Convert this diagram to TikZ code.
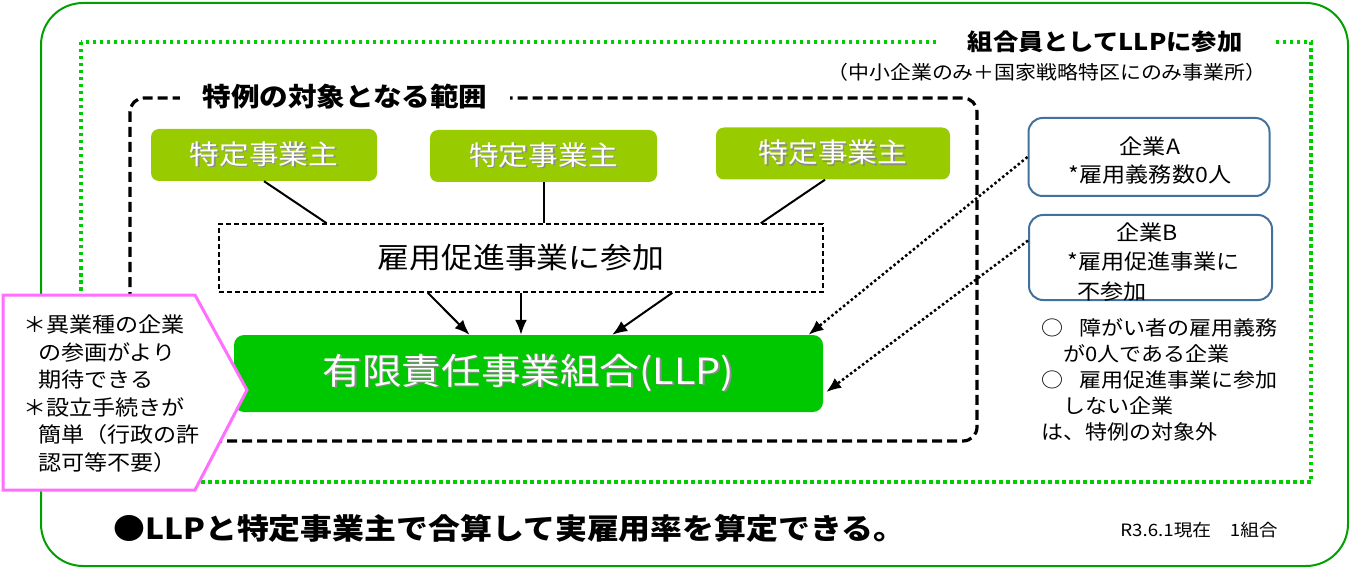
\documentclass[tikz,border=0pt]{standalone}
\usepackage{fontspec}
\setmainfont[FakeStretch=1.1]{Noto Sans CJK JP}
\usetikzlibrary{arrows.meta,calc}
\definecolor{outergreen}{RGB}{0,160,0}
\definecolor{dotgreen}{RGB}{0,204,0}
\definecolor{ygreen}{RGB}{153,204,0}
\definecolor{llpgreen}{RGB}{0,200,0}
\definecolor{pinkline}{RGB}{255,110,255}
\definecolor{blueline}{RGB}{65,113,156}
\newcommand{\shd}[1]{\makebox[0pt][l]{\hspace{1.5pt}\raisebox{-1.5pt}{\color{black!45}#1}}#1}
\begin{document}
\begin{tikzpicture}[x=1pt,y=-1pt,
  tsbox/.style={fill=ygreen, rounded corners=8pt, minimum height=52pt, inner sep=0pt, text=white, font=\fontsize{27}{30}\selectfont},
  bluebox/.style={draw=blueline, line width=2pt, rounded corners=14pt, inner sep=0pt},
  txt/.style={inner sep=0pt, align=left},
  conn/.style={line width=2pt},
  arr/.style={line width=2pt, -{Latex[length=15pt,width=12pt]}},
  dotarr/.style={line width=2.5pt, dash pattern=on 2.5pt off 2.5pt, -{Latex[length=15pt,width=12pt]}}
]
\useasboundingbox (0,0) rectangle (1351,569);
% outer frames
\draw[outergreen, line width=2pt, rounded corners=42pt] (41,3) rectangle (1348,566);
\draw[dotgreen, line width=3.5pt, dash pattern=on 3.5pt off 3.5pt] (81,42) rectangle (1311,482);
\draw[line width=3.2pt, dash pattern=on 10pt off 5pt, rounded corners=14pt] (130,98) rectangle (977,441);
% titles
\node[fill=white, inner xsep=32pt, inner ysep=2pt, font=\bfseries\fontsize{23}{26}\selectfont] (kumi) at (1105,42) {組合員としてLLPに参加};
\node[inner sep=0pt, font=\fontsize{19}{22}\selectfont] (kumisub) at (1047,72) {（中小企業のみ＋国家戦略特区にのみ事業所）};
\node[fill=white, inner xsep=22pt, inner ysep=2pt, font=\bfseries\fontsize{26}{30}\selectfont] (scope) at (345,97) {特例の対象となる範囲};
% employers
\node[tsbox, minimum width=226pt] (g1) at (264,155) {\shd{特定事業主}};
\node[tsbox, minimum width=227pt] (g2) at (543.5,156) {\shd{特定事業主}};
\node[tsbox, minimum width=234pt] (g3) at (833,153.5) {\shd{特定事業主}};
% participation box
\node[draw, line width=1.5pt, dash pattern=on 5pt off 3pt, minimum width=604pt, minimum height=68pt, inner sep=0pt, font=\fontsize{29}{32}\selectfont] (p) at (521,258) {雇用促進事業に参加};
% LLP
\node[fill=llpgreen, rounded corners=10pt, minimum width=589pt, minimum height=77pt, inner sep=0pt, text=white, font=\fontsize{36}{40}\selectfont] (llp) at (528.5,373.5) {\shd{有限責任事業組合(LLP)}};
% connectors
\draw[conn] (g1.south) -- ($(p.north west)!0.179!(p.north east)$);
\draw[conn] (g2.south) -- (g2.south |- p.north);
\draw[conn] ($(g3.south)+(-8,0)$) -- ($(p.north west)!0.896!(p.north east)$);
\draw[arr] ($(p.south west)!0.346!(p.south east)$) -- ($(llp.north west)!0.40!(llp.north east)$);
\draw[arr] (p.south) -- (p.south |- llp.north);
\draw[arr] ($(p.south west)!0.75!(p.south east)$) -- ($(llp.north west)!0.642!(llp.north east)$);
% companies
\node[bluebox, minimum width=241pt, minimum height=78pt] (ca) at (1149,157) {};
\node[bluebox, minimum width=243pt, minimum height=85pt] (cb) at (1150.5,257.5) {};
\node[inner sep=0pt, align=center, font=\fontsize{21}{28}\selectfont] (cat) at (1150,161) {企業A\\*雇用義務数0人};
\node[txt, anchor=west, font=\fontsize{21}{29.5}\selectfont] (cbt) at (1067,262) {\hspace*{49pt}企業B\\*雇用促進事業に\\\hspace*{10pt}不参加};
\draw[dotarr] (ca.west) -- ($(llp.north west)!0.975!(llp.north east)$);
\draw[dotarr] ($(cb.west)+(0,-17)$) -- ($(llp.north east)!0.74!(llp.south east)+(3,0)$);
% notes
\node[txt, anchor=west, font=\fontsize{20}{26}\selectfont] (notes) at (1041,380) {○\hspace*{0.8em}障がい者の雇用義務\\\hspace*{22pt}が0人である企業\\○\hspace*{0.8em}雇用促進事業に参加\\\hspace*{22pt}しない企業\\は、特例の対象外};
% pink pentagon
\draw[pinkline, line width=3pt, fill=white] (3,295) -- (195,295) -- (247,390) -- (195,490) -- (3,490) -- cycle;
\node[txt, anchor=west, font=\fontsize{21}{27.5}\selectfont] (merit) at (23,393.5) {＊異業種の企業\\\hspace*{15pt}の参画がより\\\hspace*{15pt}期待できる\\＊設立手続きが\\\hspace*{15pt}簡単（行政の許\\\hspace*{15pt}認可等不要）};
% bottom
\node[txt, anchor=west, font=\bfseries\fontsize{29}{32}\selectfont] (summ) at (113,528) {●LLPと特定事業主で合算して実雇用率を算定できる。};
\node[inner sep=0pt, font=\fontsize{17}{20}\selectfont] (date) at (1199,530) {R3.6.1現在　1組合};
\end{tikzpicture}
\end{document}
